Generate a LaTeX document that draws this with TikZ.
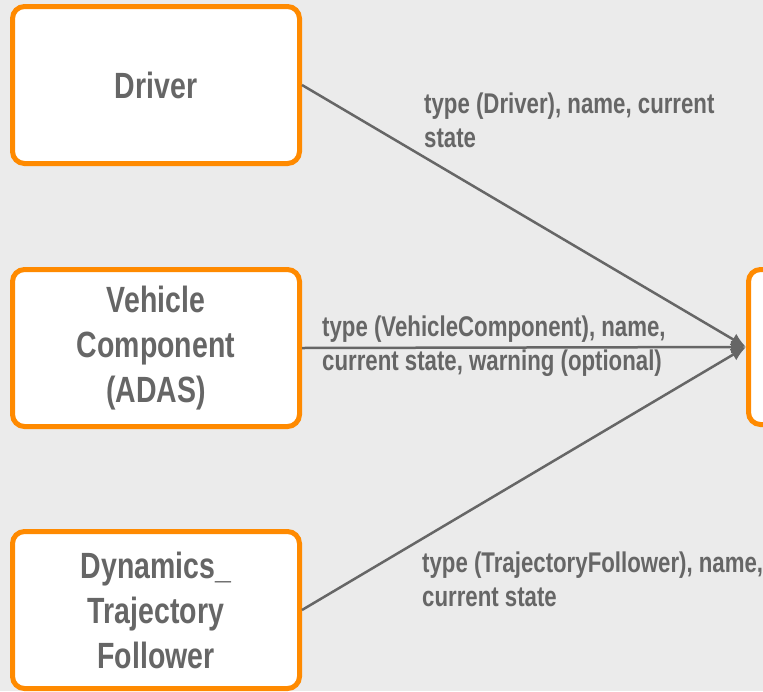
\documentclass[tikz,border=0pt]{standalone}
\usepackage{fontspec}
\setmainfont{Liberation Sans}[FakeStretch=0.78]
\usetikzlibrary{arrows.meta}
\definecolor{bgc}{HTML}{EBEBEB}
\definecolor{orng}{HTML}{FF8A00}
\definecolor{txtc}{HTML}{666666}
\tikzset{
  box/.style={draw=orng, fill=white, line width=5pt, rounded corners=12pt,
    minimum width=287pt, minimum height=157pt, inner sep=0pt,
    align=center, text=txtc, font=\fontsize{36.5}{45}\selectfont\bfseries},
  conn/.style={draw=txtc, line width=2.5pt, -{Latex[length=15pt,width=13pt]}},
  lbl/.style={anchor=base west, inner sep=0pt, align=left, text=txtc,
    font=\fontsize{28.5}{34}\selectfont\bfseries}
}
\begin{document}
\begin{tikzpicture}[x=1pt,y=-1pt]
\useasboundingbox[fill=bgc] (0,0) rectangle (763,691);
\node[box] (driver) at (156,85) {Driver};
\node[box] (vehicle) at (156,348) {Vehicle\\Component\\(ADAS)};
\node[box] (dyn) at (156,610) {Dynamics\_\\Trajectory\\Follower};
\node[box, minimum height=155pt] (target) at (892,347) {};
\draw[conn] (driver.east) -- (target.west);
\draw[conn] (vehicle.east) -- (target.west);
\draw[conn] (dyn.east) -- (target.west);
\node[lbl] (l1) at (424,147) {type (Driver), name, current\\state};
\node[lbl] (l2) at (322,370) {type (VehicleComponent), name,\\current state, warning (optional)};
\node[lbl] (l3) at (422,606) {type (TrajectoryFollower), name,\\current state};
\end{tikzpicture}
\end{document}
